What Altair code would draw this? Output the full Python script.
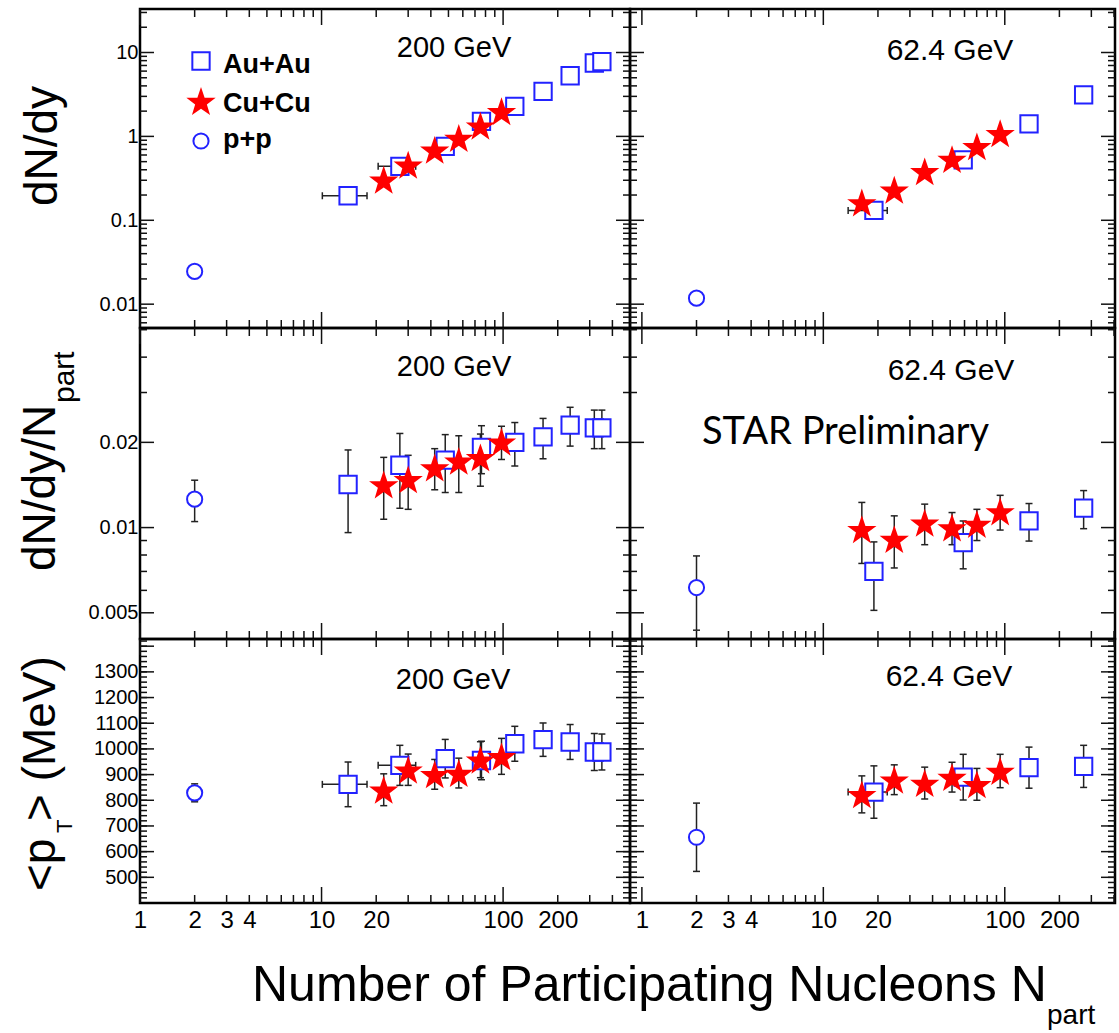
import altair as alt
import pandas as pd

# ---------------- values ----------------
# 200 GeV Au+Au
AUAU200_NPART = [14, 27, 48, 76, 116, 166, 234, 318, 350]
AUAU200_DNDY = [0.196, 0.44, 0.76, 1.51, 2.28, 3.44, 5.28, 7.5, 7.8]
AUAU200_DNDY_NPART = [0.0142, 0.0166, 0.0173, 0.0192, 0.0200, 0.0209, 0.0230, 0.0225, 0.0225]
AUAU200_DNDY_NPART_ERR = [0.0046, 0.0049, 0.0040, 0.0037, 0.0035, 0.0034, 0.0036, 0.0035, 0.0035]
AUAU200_MEANPT = [862, 936, 962, 955, 1020, 1036, 1027, 988, 988]
AUAU200_MEANPT_ERR = [87, 78, 75, 75, 68, 65, 68, 72, 70]
AUAU200_XERR_NPART = [14, 27]
AUAU200_XERR_LO = [10.1, 20.5]
AUAU200_XERR_HI = [17.8, 33.0]

# 200 GeV Cu+Cu
CUCU200_NPART = [22, 30, 42, 57, 75, 98]
CUCU200_DNDY = [0.304, 0.459, 0.69, 0.955, 1.34, 1.99]
CUCU200_DNDY_NPART = [0.0142, 0.0148, 0.0163, 0.0172, 0.0177, 0.0201]
CUCU200_DNDY_NPART_ERR = [0.0035, 0.0032, 0.0027, 0.0039, 0.0037, 0.0027]
CUCU200_MEANPT = [841, 919, 901, 906, 958, 971]
CUCU200_MEANPT_ERR = [62, 61, 58, 58, 70, 70]

# 200 GeV p+p
PP200_NPART = [2]
PP200_DNDY = [0.0246]
PP200_DNDY_NPART = [0.0126]
PP200_DNDY_NPART_ERR = [0.0021]
PP200_MEANPT = [829]
PP200_MEANPT_ERR = [35]

# 62.4 GeV Au+Au
AUAU62_NPART = [19, 59, 136, 272]
AUAU62_DNDY = [0.131, 0.526, 1.41, 3.13]
AUAU62_DNDY_NPART = [0.0070, 0.00885, 0.01056, 0.01171]
AUAU62_DNDY_NPART_ERR = [0.0019, 0.0017, 0.0016, 0.0018]
AUAU62_MEANPT = [832, 890, 927, 932]
AUAU62_MEANPT_ERR = [102, 89, 80, 82]
AUAU62_XERR_NPART = [19]
AUAU62_XERR_LO = [13.7]
AUAU62_XERR_HI = [22.5]

# 62.4 GeV Cu+Cu
CUCU62_NPART = [16.3, 24.6, 36.2, 51.2, 70.2, 94.3]
CUCU62_DNDY = [0.163, 0.231, 0.383, 0.536, 0.76, 1.09]
CUCU62_DNDY_NPART = [0.00987, 0.0091, 0.0104, 0.0100, 0.0103, 0.0114]
CUCU62_DNDY_NPART_ERR = [0.0024, 0.0019, 0.0017, 0.0013, 0.0013, 0.0016]
CUCU62_MEANPT = [823, 880, 867, 890, 862, 914]
CUCU62_MEANPT_ERR = [72, 58, 62, 58, 62, 65]

# 62.4 GeV p+p
PP62_NPART = [2]
PP62_DNDY = [0.0118]
PP62_DNDY_NPART = [0.00614]
PP62_DNDY_NPART_ERR = [0.0018]
PP62_MEANPT = [656]
PP62_MEANPT_ERR = [133]

# ---------------- axes: labels and tick marks ----------------
X_TICK_LABELS = [1, 2, 3, 4, 10, 20, 100, 200]
Y_TICK_LABELS = [
    [0.01, 0.1, 1, 10],
    [0.005, 0.01, 0.02],
    [500, 600, 700, 800, 900, 1000, 1100, 1200, 1300],
]
X_MAJOR = [1, 10, 100]
X_MINOR = [2, 3, 4, 5, 6, 7, 8, 9, 20, 30, 40, 50, 60, 70, 80, 90, 200, 300, 400, 500]
Y_MAJOR = [
    [0.01, 0.1, 1, 10],
    [0.005, 0.01, 0.02],
    [500, 600, 700, 800, 900, 1000, 1100, 1200, 1300, 1400],
]
Y_MINOR = [
    [k * 10.0 ** e for e in (-3, -2, -1, 0, 1) for k in range(2, 10)],
    [0.006, 0.007, 0.008, 0.009, 0.03, 0.04, 0.05],
    list(range(420, 1428, 20)),
]

ENERGY_LABELS = ["200 GeV", "62.4 GeV"]
LEGEND_LABELS = ["Au+Au", "Cu+Cu", "p+p"]

SERIES = [
    {  # 200 GeV
        "AuAu": (AUAU200_NPART, [AUAU200_DNDY, AUAU200_DNDY_NPART, AUAU200_MEANPT],
                 [None, AUAU200_DNDY_NPART_ERR, AUAU200_MEANPT_ERR]),
        "CuCu": (CUCU200_NPART, [CUCU200_DNDY, CUCU200_DNDY_NPART, CUCU200_MEANPT],
                 [None, CUCU200_DNDY_NPART_ERR, CUCU200_MEANPT_ERR]),
        "pp": (PP200_NPART, [PP200_DNDY, PP200_DNDY_NPART, PP200_MEANPT],
               [None, PP200_DNDY_NPART_ERR, PP200_MEANPT_ERR]),
        "xerr": (AUAU200_XERR_NPART, AUAU200_XERR_LO, AUAU200_XERR_HI),
    },
    {  # 62.4 GeV
        "AuAu": (AUAU62_NPART, [AUAU62_DNDY, AUAU62_DNDY_NPART, AUAU62_MEANPT],
                 [None, AUAU62_DNDY_NPART_ERR, AUAU62_MEANPT_ERR]),
        "CuCu": (CUCU62_NPART, [CUCU62_DNDY, CUCU62_DNDY_NPART, CUCU62_MEANPT],
                 [None, CUCU62_DNDY_NPART_ERR, CUCU62_MEANPT_ERR]),
        "pp": (PP62_NPART, [PP62_DNDY, PP62_DNDY_NPART, PP62_MEANPT],
               [None, PP62_DNDY_NPART_ERR, PP62_MEANPT_ERR]),
        "xerr": (AUAU62_XERR_NPART, AUAU62_XERR_LO, AUAU62_XERR_HI),
    },
]

# ---------------- style ----------------
FONT = "Liberation Sans"
BLUE = "#2222ff"
RED = "#ff0000"
ERR = "#222222"
WIDTHS = [490, 485]
HEIGHTS = [319, 311, 264]
X_DOMAINS = [[1, 500], [0.86, 405]]
Y_DOMAINS = [[0.0052, 33], [0.00404, 0.0507], [400, 1428]]
Y_TYPES = ["log", "log", "linear"]
STAR = ("M0,-0.905 L0.235,-0.214 L0.951,-0.214 L0.380,0.220 L0.588,0.905 "
        "L0,0.495 L-0.588,0.905 L-0.380,0.220 L-0.951,-0.214 L-0.235,-0.214 Z")
ENERGY_POS = {(0, 0): (314, 48), (1, 0): (314, 48), (2, 0): (313, 50),
              (0, 1): (320, 51), (1, 1): (321, 52), (2, 1): (319, 47)}


def note(text, x, y, size, font=FONT, align="left", angle=0, weight="normal"):
    return alt.Chart(pd.DataFrame({"t": [text]})).mark_text(
        font=font, fontSize=size, align=align, baseline="alphabetic",
        angle=angle, fontWeight=weight, color="black"
    ).encode(x=alt.value(x), y=alt.value(y), text="t:N")


def panel(row, col):
    W, H = WIDTHS[col], HEIGHTS[row]
    xdom, ydom = X_DOMAINS[col], Y_DOMAINS[row]
    xs = alt.Scale(type="log", domain=xdom, nice=False)
    ys = alt.Scale(type=Y_TYPES[row], domain=ydom, nice=False, zero=False)
    xaxis = alt.Axis(values=X_TICK_LABELS, format="~g", labelFont=FONT, labelFontSize=24,
                     labelColor="black", labelPadding=5, labelOverlap=False,
                     labelFlush=False, labelBound=False, ticks=False, domain=False,
                     grid=False, title=None) if row == 2 else None
    yaxis = alt.Axis(values=Y_TICK_LABELS[row], format="~g" if row < 2 else "d",
                     labelFont=FONT, labelFontSize=20, labelColor="black", labelPadding=2,
                     labelOverlap=False, labelFlush=False, labelBound=False, ticks=False,
                     domain=False, grid=False, title=None) if col == 0 else None

    def X(f):
        return alt.X(f"{f}:Q", scale=xs, axis=xaxis)

    def Y(f):
        return alt.Y(f"{f}:Q", scale=ys, axis=yaxis)

    layers = []
    # inward tick marks on all four sides
    for vals, ln in ((X_MAJOR, 16), (X_MINOR, 8)):
        v = [t for t in vals if xdom[0] <= t <= xdom[1]]
        df = pd.DataFrame({"v": v})
        for y0, y1 in ((H, H - ln), (0, ln)):
            layers.append(alt.Chart(df).mark_rule(color="#111", strokeWidth=1.5).encode(
                x=X("v"), y=alt.value(y0), y2=alt.value(y1)))
    for vals, ln in ((Y_MAJOR[row], 14), (Y_MINOR[row], 7)):
        v = [t for t in vals if ydom[0] <= t <= ydom[1]]
        df = pd.DataFrame({"v": v})
        for x0, x1 in ((0, ln), (W, W - ln)):
            layers.append(alt.Chart(df).mark_rule(color="#111", strokeWidth=1.5).encode(
                y=Y("v"), x=alt.value(x0), x2=alt.value(x1)))

    ser = SERIES[col]
    # vertical error bars
    for key in ("AuAu", "CuCu", "pp"):
        npart, vals, errs = ser[key]
        err = errs[row]
        if err is None:
            continue
        lo = [a - b for a, b in zip(vals[row], err)]
        hi = [a + b for a, b in zip(vals[row], err)]
        df = pd.DataFrame({"N": npart, "lo": lo, "hi": hi})
        layers.append(alt.Chart(df).mark_rule(color=ERR, strokeWidth=1.5).encode(
            x=X("N"), y=Y("lo"), y2="hi"))
        cap = pd.DataFrame({"N": list(npart) * 2, "v": lo + hi})
        layers.append(alt.Chart(cap).mark_tick(orient="horizontal", color=ERR, size=7,
                                               thickness=1.5, opacity=1).encode(
            x=X("N"), y=Y("v")))
    # horizontal error bars (top and bottom rows only)
    if row != 1:
        xn, xlo, xhi = ser["xerr"]
        au_n, au_vals, _ = ser["AuAu"]
        yv = [au_vals[row][au_n.index(n)] for n in xn]
        dfx = pd.DataFrame({"lo": xlo, "hi": xhi, "v": yv})
        layers.append(alt.Chart(dfx).mark_rule(color=ERR, strokeWidth=1.5).encode(
            x=X("lo"), x2="hi", y=Y("v")))
        capx = pd.DataFrame({"N": xlo + xhi, "v": yv * 2})
        layers.append(alt.Chart(capx).mark_tick(orient="vertical", color=ERR, size=7,
                                                thickness=1.5, opacity=1).encode(
            x=X("N"), y=Y("v")))

    # markers
    npart, vals, _ = ser["AuAu"]
    layers.append(alt.Chart(pd.DataFrame({"N": npart, "v": vals[row]})).mark_point(
        shape="square", filled=True, fill="white", stroke=BLUE, strokeWidth=2,
        size=300, opacity=1).encode(x=X("N"), y=Y("v")))
    npart, vals, _ = ser["pp"]
    layers.append(alt.Chart(pd.DataFrame({"N": npart, "v": vals[row]})).mark_point(
        shape="circle", filled=True, fill="white", stroke=BLUE, strokeWidth=2,
        size=230, opacity=1).encode(x=X("N"), y=Y("v")))
    npart, vals, _ = ser["CuCu"]
    layers.append(alt.Chart(pd.DataFrame({"N": npart, "v": vals[row]})).mark_point(
        shape=STAR, filled=True, fill=RED, strokeWidth=0, size=950, opacity=1).encode(
        x=X("N"), y=Y("v")))

    # energy label
    ex, ey = ENERGY_POS[(row, col)]
    layers.append(note(ENERGY_LABELS[col], ex, ey, 29 if col == 0 else 30, align="center"))

    if row == 0 and col == 0:
        # layout anchor (keeps the plot frame at the reference position)
        layers.append(alt.Chart(pd.DataFrame({"t": [0]})).mark_rule(
            strokeOpacity=0, strokeWidth=0).encode(
            x=alt.value(-138), y=alt.value(0), y2=alt.value(1)))
        # legend
        layers.append(alt.Chart(pd.DataFrame({"t": [LEGEND_LABELS[0]]})).mark_point(
            shape="square", filled=True, fill="white", stroke=BLUE, strokeWidth=2,
            size=300, opacity=1).encode(x=alt.value(61), y=alt.value(52)))
        layers.append(alt.Chart(pd.DataFrame({"t": [LEGEND_LABELS[1]]})).mark_point(
            shape=STAR, filled=True, fill=RED, strokeWidth=0, size=950, opacity=1).encode(
            x=alt.value(61), y=alt.value(92)))
        layers.append(alt.Chart(pd.DataFrame({"t": [LEGEND_LABELS[2]]})).mark_point(
            shape="circle", filled=True, fill="white", stroke=BLUE, strokeWidth=2,
            size=230, opacity=1).encode(x=alt.value(61), y=alt.value(132)))
        layers.append(note(LEGEND_LABELS[0], 83, 64, 27, weight="bold"))
        layers.append(note(LEGEND_LABELS[1], 83, 103, 27, weight="bold"))
        layers.append(note(LEGEND_LABELS[2], 83, 139, 27, weight="bold"))
        layers.append(note("dN/dy", -83, 137, 46, align="center", angle=270))
    if row == 1 and col == 0:
        layers.append(note("dN/dy/N", -85, 243, 46, angle=270))
        layers.append(note("part", -66, 75, 30, angle=270))
    if row == 1 and col == 1:
        layers.append(note("STAR Preliminary", 72, 116, 38, font="Lato"))
    if row == 2 and col == 0:
        layers.append(note("<p", -85, 252, 46, angle=270))
        layers.append(note("T", -68, 194, 22, angle=270))
        layers.append(note("> (MeV)", -85, 182, 46, angle=270))
        layers.append(note("Number of Participating Nucleons N", 112, 362, 50))
        layers.append(note("part", 907, 385, 28))

    return alt.layer(*layers).properties(width=W, height=H)


panels = [panel(r, c) for r in range(3) for c in range(2)]
chart = alt.concat(*panels, columns=2, spacing=0, bounds="flush", align="each").properties(
    padding={"left": 0, "top": 7, "right": 0, "bottom": 0}
).configure_view(stroke="black", strokeWidth=2.5)

chart.save("out.html", embed_options={"renderer": "svg", "actions": False})
